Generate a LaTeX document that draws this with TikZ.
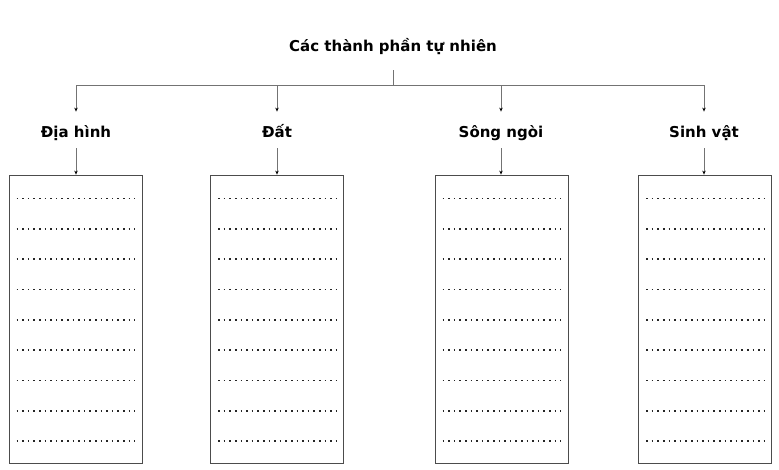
\documentclass[tikz,border=0pt]{standalone}
\usepackage{fontspec}
\setmainfont{DejaVu Sans}
\usetikzlibrary{arrows.meta}

\begin{document}
\begin{tikzpicture}[x=1pt,y=-1pt,line width=0.8pt,
    head/.style={font=\fontsize{15}{18}\selectfont\bfseries,minimum height=36pt,inner sep=0pt,
        text height=16pt,text depth=2pt},
    cell/.style={draw=boxcolor,minimum width=133pt,minimum height=288pt,inner sep=0pt},
    link/.style={draw=linkcolor,-{Stealth[length=4pt,width=3.5pt,color=black]}},
    dotrow/.style={draw=black!85,line width=1.6pt,dash pattern=on 1.6pt off 4pt}]

    \colorlet{boxcolor}{black!70}
    \colorlet{linkcolor}{black!55}

    \useasboundingbox (0,0) rectangle (779,469);

    \node[font=\fontsize{15}{18}\selectfont\bfseries,anchor=base,inner sep=0pt] (title) at (393,51) {Các thành phần tự nhiên};
    \coordinate (stub) at (393,70);
    \coordinate (bar) at (393,85);

    \node[head] (dia) at (76,130) {Địa hình};
    \node[head] (dat) at (277,130) {Đất};
    \node[head] (song) at (501,130) {Sông ngòi};
    \node[head] (sinh) at (704,130) {Sinh vật};

    \node[cell] (bdia) at (75.5,319) {};
    \node[cell] (bdat) at (277,319) {};
    \node[cell] (bsong) at (501.5,319) {};
    \node[cell] (bsinh) at (705,319) {};

    \draw[linkcolor] (stub) -- (bar);
    \draw[linkcolor] (dia |- bar) -- (sinh |- bar);

    \draw[link] (dia |- bar) -- (dia.north);
    \draw[link] (dat |- bar) -- (dat.north);
    \draw[link] (song |- bar) -- (song.north);
    \draw[link] (sinh |- bar) -- (sinh.north);

    \draw[link] (dia.south) -- (dia.south |- bdia.north);
    \draw[link] (dat.south) -- (dat.south |- bdat.north);
    \draw[link] (song.south) -- (song.south |- bsong.north);
    \draw[link] (sinh.south) -- (sinh.south |- bsinh.north);

    \foreach \b in {bdia,bdat,bsong,bsinh}
        \foreach \k in {0,...,8}
            \draw[dotrow] ([xshift=8pt,yshift={-24pt-\k*30.3pt}]\b.north west)
                -- ([xshift=-8pt,yshift={-24pt-\k*30.3pt}]\b.north east);

\end{tikzpicture}
\end{document}
